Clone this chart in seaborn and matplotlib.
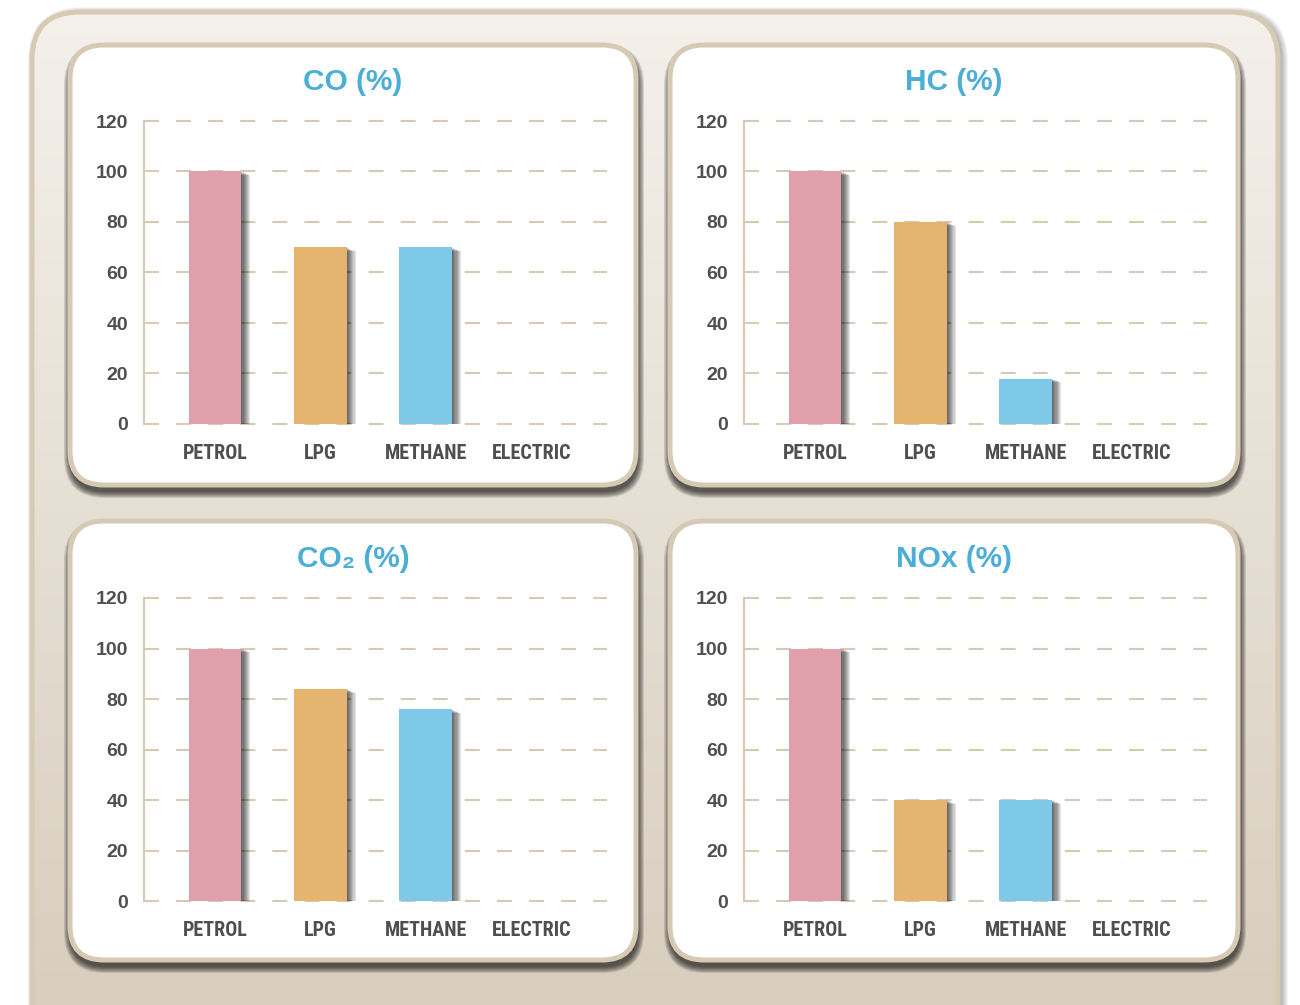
import numpy as np
import pandas as pd
import matplotlib
matplotlib.use("Agg")
import matplotlib.pyplot as plt
import matplotlib.patheffects as pe
from matplotlib.patches import FancyBboxPatch
from matplotlib import font_manager
import seaborn as sns

# ---------------------------------------------------------------- data
fuels = ["PETROL", "LPG", "METHANE", "ELECTRIC"]
co_pct = [100, 70, 70, 0]
hc_pct = [100, 80, 18, 0]
co2_pct = [100, 84, 76, 0]
nox_pct = [100, 40, 40, 0]
panel_titles = ["CO (%)", "HC (%)", "CO₂ (%)", "NOx (%)"]
y_ticks = [0, 20, 40, 60, 80, 100, 120]

fuel_colors = {"PETROL": "#dfa0ac", "LPG": "#e5b46e",
               "METHANE": "#7ec8e8", "ELECTRIC": "#b8d98a"}

TITLE_BLUE = "#4aaed6"
LABEL_GREY = "#4f4f4f"
BEIGE = "#d6cab4"

rows = []
for title, vals in zip(panel_titles, [co_pct, hc_pct, co2_pct, nox_pct]):
    for fuel, v in zip(fuels, vals):
        rows.append({"pollutant": title, "fuel": fuel, "value": v})
df = pd.DataFrame(rows)

sns.set_theme(style="white")
available = {f.name for f in font_manager.fontManager.ttflist}
narrow = next((n for n in ["Roboto Condensed", "Archivo Narrow", "PT Sans Narrow",
                           "Arial Narrow", "Liberation Sans Narrow",
                           "Barlow Semi Condensed", "Encode Sans Condensed",
                           "Liberation Sans"] if n in available), "DejaVu Sans")
plt.rcParams["font.family"] = ["Liberation Sans", "DejaVu Sans"]

W, H = 1300, 1005
fig = plt.figure(figsize=(W / 100, H / 100), dpi=100, facecolor="white")

# background layer in pixel units
bg = fig.add_axes([0, 0, 1, 1], zorder=0)
bg.axis("off")


def rbox(x, y, w, h, r, **kw):
    p = FancyBboxPatch((x, y), w, h,
                       boxstyle=f"round,pad=0,rounding_size={r}", **kw)
    bg.add_patch(p)
    return p


def soft_shadow(x, y, w, h, r, dx, dy, spread, alpha, z):
    for i in range(spread, 0, -1):
        rbox(x + dx - i, y + dy - i, w + 2 * i, h + 2 * i, r + i,
             facecolor="black", edgecolor="none", alpha=alpha, zorder=z)


# outer card with vertical gradient
ox, oy, ow, oh, orad = 32, 12, 1246, 1060, 48
soft_shadow(ox, oy, ow, oh, orad, 3, 2, 7, 0.045, 1)
card = rbox(ox, oy, ow, oh, orad, facecolor="#efe9e0", edgecolor="none", zorder=2)
t = np.linspace(0, 1, 256)[:, None, None]
c_top = np.array(matplotlib.colors.to_rgb("#f4f0ea"))[None, None, :]
c_bot = np.array(matplotlib.colors.to_rgb("#d8cebe"))[None, None, :]
grad = c_top * (1 - t) + c_bot * t
im = bg.imshow(np.repeat(grad, 2, axis=1), extent=[ox, ox + ow, H, oy],
               aspect="auto", zorder=2.5, interpolation="bilinear")
im.set_clip_path(card)
rbox(ox, oy, ow, oh, orad, facecolor="none", edgecolor=BEIGE, linewidth=3.6, zorder=3)

# white chart cards
panels = [(70, 45, 566, 440), (670, 45, 568, 440),
          (70, 521, 566, 439), (670, 521, 568, 439)]
for (px, py, pw, ph) in panels:
    soft_shadow(px, py, pw, ph, 34, 1, 6, 7, 0.12, 4)
    rbox(px, py, pw, ph, 34, facecolor="white", edgecolor=BEIGE,
         linewidth=3.6, zorder=5)

bg.set_xlim(0, W)
bg.set_ylim(H, 0)

# plotting areas (left, top, right, bottom) in pixels
ax_px = [(144, 121, 607, 424), (744, 121, 1207, 424),
         (144, 598, 607, 901), (744, 598, 1207, 901)]

# soft drop shadow under each bar: translucent copies stepping down-right
bar_shadow = [
    pe.SimplePatchShadow(offset=(0.8 * k, -0.35 * k), shadow_rgbFace="black",
                         alpha=0.1)
    for k in range(1, 9)
] + [pe.Normal()]

for (l, t_, r, b), (px, py, pw, ph), title in zip(ax_px, panels, panel_titles):
    ax = fig.add_axes([l / W, 1 - b / H, (r - l) / W, (b - t_) / H], zorder=2)
    ax.set_facecolor("none")
    sub = df[df["pollutant"] == title]
    sns.barplot(data=sub, x="fuel", y="value", hue="fuel", order=fuels,
                hue_order=fuels, palette=fuel_colors, width=0.5,
                saturation=1, legend=False, ax=ax, zorder=3)
    for patch in ax.patches:
        if patch.get_height() > 0:
            patch.set_path_effects(bar_shadow)
        patch.set_edgecolor("none")
    ax.set_xlim(-0.674, 3.72)
    ax.set_ylim(0, 120)
    ax.set_yticks(y_ticks)
    ax.set_axisbelow(True)
    ax.grid(axis="y", color=BEIGE, linewidth=1.5, linestyle=(0, (7.2, 8.2)))
    ax.grid(axis="x", visible=False)
    for gl in ax.yaxis.get_gridlines():
        gl.set_clip_on(False)
    for side in ("top", "right", "bottom"):
        ax.spines[side].set_visible(False)
    ax.spines["left"].set_color(BEIGE)
    ax.spines["left"].set_linewidth(1.5)
    ax.set_xlabel("")
    ax.set_ylabel("")
    ax.tick_params(axis="y", length=0, pad=11.5, labelsize=14, labelcolor=LABEL_GREY)
    ax.tick_params(axis="x", length=0, pad=14.5, labelsize=14.5, labelcolor=LABEL_GREY)
    for lab in ax.get_yticklabels():
        lab.set_fontweight("bold")
    for lab in ax.get_xticklabels():
        lab.set_fontweight("bold")
        lab.set_family([narrow, "DejaVu Sans"])
    cx = (px + pw / 2 - l) / (r - l)
    ax.set_title(title, x=cx, pad=22, fontsize=21.5, fontweight="bold",
                 color=TITLE_BLUE)

fig.savefig("out.png", dpi=100, facecolor="white")
